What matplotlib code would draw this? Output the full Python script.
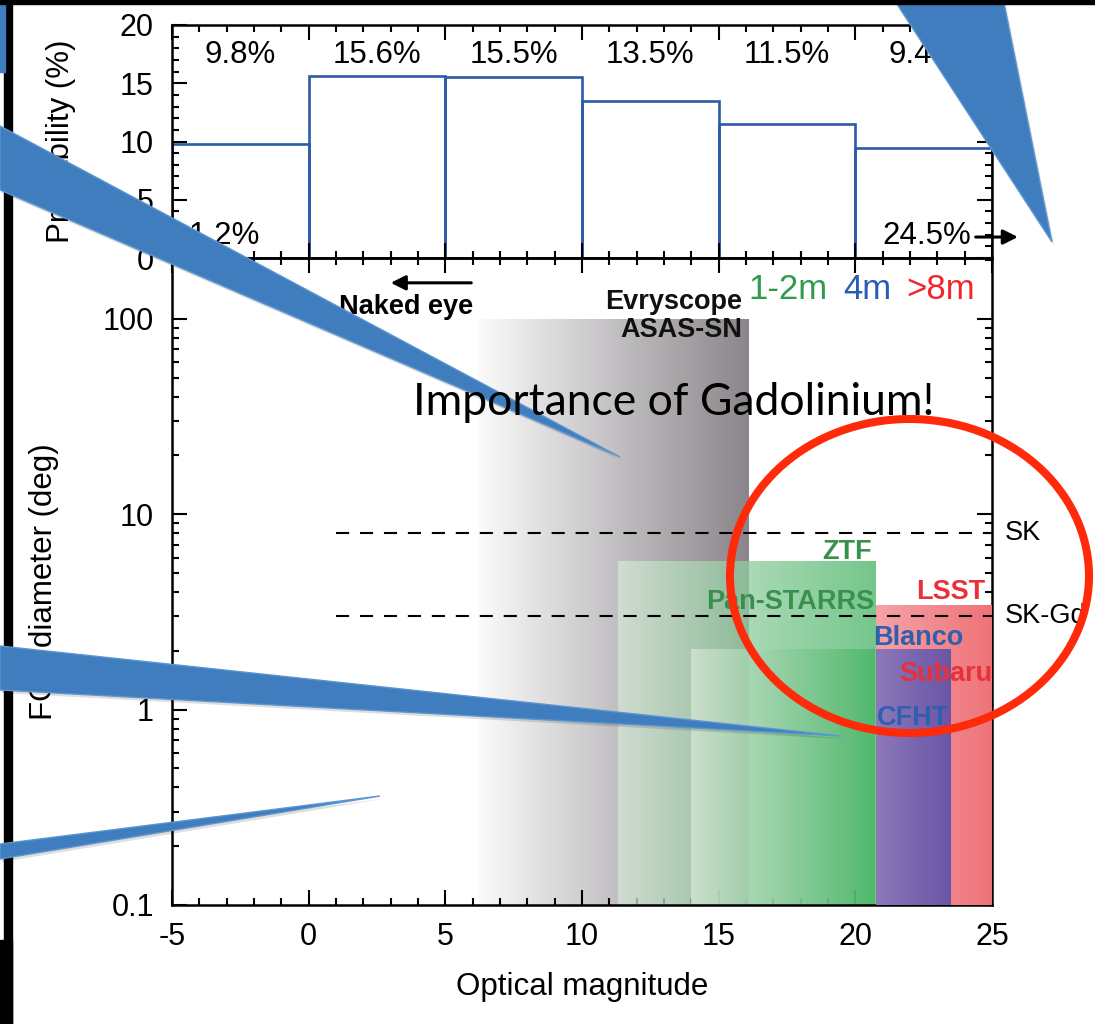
import numpy as np
import matplotlib
matplotlib.use('Agg')
import matplotlib.pyplot as plt
import matplotlib.colors as mcolors
from matplotlib.patches import Polygon, Ellipse, Rectangle
from matplotlib.ticker import MultipleLocator, LogLocator, NullFormatter

plt.rcParams['font.family'] = ['Liberation Sans', 'DejaVu Sans']
plt.rcParams['axes.unicode_minus'] = False

# 概率直方图 (上图)
mag_edges = [-5, 0, 5, 10, 15, 20, 25]
prob = [9.8, 15.6, 15.5, 13.5, 11.5, 9.4]
prob_below = 1.2
prob_above = 24.5

# 巡天视场 (下图)
surveys = ['ASAS-SN', 'ZTF', 'Pan-STARRS', 'LSST', 'Blanco']
mag_lo = [6.2, 11.3, 14.0, 20.75, 20.75]
mag_hi = [16.15, 20.75, 20.75, 25.0, 23.5]
fov = [100, 5.8, 2.05, 3.46, 2.05]

# 探测器视场线
det_names = ['SK', 'SK-Gd']
det_fov = [8.0, 3.0]
det_from = 1.0

xticks = [-5, 0, 5, 10, 15, 20, 25]
yticks_top = [0, 5, 10, 15, 20]
yticks_bot = [0.1, 1, 10, 100]
yticklabels_bot = ['0.1', '1', '10', '100']

W, H = 1095, 1024
fig = plt.figure(figsize=(W / 100, H / 100), dpi=100)
fig.patch.set_facecolor('white')


def px_axes(x0, y0, x1, y1):
    return [x0 / W, 1 - y1 / H, (x1 - x0) / W, (y1 - y0) / H]


ax1 = fig.add_axes(px_axes(172, 25, 992, 258))
ax2 = fig.add_axes(px_axes(172, 258, 992, 905))

hist_blue = '#2d5aa8'
ax1.bar(mag_edges[:-1], prob, width=5, align='edge', fill=False,
        edgecolor=hist_blue, linewidth=1.9)
for i, p in enumerate(prob):
    ax1.text((mag_edges[i] + mag_edges[i + 1]) / 2, 17.4, f'{p}%',
             ha='center', va='center', fontsize=22.5)
ax1.text(-4.4, 1.9, f'{prob_below}%', ha='left', va='center', fontsize=22.5)
ax1.text(24.25, 1.9, f'{prob_above}%', ha='right', va='center', fontsize=22.5)
ax1.annotate('', xy=(26.05, 1.8), xytext=(24.3, 1.8), annotation_clip=False,
             arrowprops=dict(arrowstyle='-|>', color='black', lw=2.2, mutation_scale=22))
ax1.annotate('', xy=(-6.6, 1.8), xytext=(-4.6, 1.8), annotation_clip=False,
             arrowprops=dict(arrowstyle='-|>', color='black', lw=2.2, mutation_scale=22))
ax1.set_xlim(-5, 25)
ax1.set_ylim(0, 20)
ax1.set_yticks(yticks_top)
ax1.set_xticks(xticks)
ax1.tick_params(labelbottom=False)
ax1.set_ylabel('Probability (%)', fontsize=22.5, va='center')
ax1.yaxis.set_label_coords((61 - 172) / 820, 0.5)
ax1.xaxis.set_minor_locator(MultipleLocator(1))
ax1.yaxis.set_minor_locator(MultipleLocator(1))


# 渐变色块
def grad_box(ax, x0, x1, y0, y1, c0, c1, alpha, z):
    t = np.linspace(0, 1, 256)[:, None]
    rgb = np.array(mcolors.to_rgb(c0)) * (1 - t) + np.array(mcolors.to_rgb(c1)) * t
    img = np.ones((1, 256, 4))
    img[0, :, :3] = rgb
    img[0, :, 3] = alpha
    ax.imshow(img, extent=(x0, x1, y0, y1), aspect='auto', origin='lower',
              interpolation='bilinear', zorder=z)


box_c0 = ['#fbfbfb', '#d7e6d7', '#d7e6d7', '#f5a2a7', '#8c78b9']
box_c1 = ['#8a858a', '#46b464', '#46b464', '#ee7378', '#6955a5']
box_alpha = [1.0, 0.75, 0.75, 1.0, 1.0]
box_z = [1, 2, 2.1, 3, 3.1]
for i in range(len(surveys)):
    grad_box(ax2, mag_lo[i], mag_hi[i], 0.1, fov[i], box_c0[i], box_c1[i], box_alpha[i], box_z[i])

for name, f in zip(det_names, det_fov):
    ax2.plot([det_from, 25], [f, f], color='black', lw=1.5,
             linestyle=(0, (6.3, 5.2)), zorder=5)
    ax2.text(25.45, f, name, ha='left', va='center', fontsize=19.5, clip_on=False)

bold = dict(fontsize=19.5, fontweight='bold', va='center', zorder=6)
ax2.text(3.55, 115, 'Naked eye', ha='center', color='black', **bold)
ax2.annotate('', xy=(2.9, 153), xytext=(6.05, 153),
             arrowprops=dict(arrowstyle='-|>', color='black', lw=2.2, mutation_scale=22))
ax2.text(15.85, 122, 'Evryscope', ha='right', color='#111111', **bold)
ax2.text(15.85, 88, 'ASAS-SN', ha='right', color='#111111', **bold)
ax2.text(19.7, 6.4, 'ZTF', ha='center', color='#3a8f4e', **bold)
ax2.text(20.7, 3.54, 'Pan-STARRS', ha='right', color='#3a8f4e', **bold)
ax2.text(24.75, 4.0, 'LSST', ha='right', color='#e8303a', **bold)
ax2.text(20.65, 2.33, 'Blanco', ha='left', color='#2f5fae', **bold)
ax2.text(25.0, 1.53, 'Subaru', ha='right', color='#e8303a', **bold)
ax2.text(20.8, 0.91, 'CFHT', ha='left', color='#2f5fae', **bold)

ax2.text(16.08, 141, '1-2m', ha='left', va='center', fontsize=25, color='#2e9c4a')
ax2.text(19.55, 141, '4m', ha='left', va='center', fontsize=25, color='#2b5cb5')
ax2.text(21.86, 141, '>8m', ha='left', va='center', fontsize=25, color='#f0282d')

ax2.set_yscale('log')
ax2.set_xlim(-5, 25)
ax2.set_ylim(0.1, 205)
ax2.set_xticks(xticks)
ax2.set_xticklabels([str(v) for v in xticks])
ax2.set_yticks(yticks_bot)
ax2.set_yticklabels(yticklabels_bot)
ax2.xaxis.set_minor_locator(MultipleLocator(1))
ax2.yaxis.set_minor_locator(LogLocator(base=10, subs=np.arange(2, 10)))
ax2.yaxis.set_minor_formatter(NullFormatter())
ax2.set_xlabel('Optical magnitude', fontsize=22.5, va='center')
ax2.xaxis.set_label_coords(0.5, (905 - 987) / 647)
ax2.set_ylabel('FOV diameter (deg)', fontsize=22.5, va='center')
ax2.yaxis.set_label_coords((44 - 172) / 820, 0.5)

for ax in (ax1, ax2):
    ax.set_facecolor('none')
    for s in ax.spines.values():
        s.set_linewidth(1.8)
    ax.tick_params(which='both', direction='in', top=True, right=True,
                   width=1.5, colors='black', labelsize=22)
    ax.tick_params(which='major', length=10.5)
    ax.tick_params(which='minor', length=5)
    ax.tick_params(axis='y', pad=13)
    ax.tick_params(axis='x', pad=12)

# 幻灯片上的标注 (像素坐标)
ov = fig.add_axes([0, 0, 1, 1], zorder=10)
ov.set_xlim(0, W)
ov.set_ylim(H, 0)
ov.axis('off')
ov.patch.set_alpha(0)

ov.add_patch(Rectangle((4, 0), 8, H, color='black', zorder=1))
ov.add_patch(Rectangle((0, 940), 12, H - 940, color='black', zorder=1))
ov.add_patch(Rectangle((0, 0), 5, 72, color='#3f7dbe', zorder=1))

callouts = [
    [(0, 126), (620, 457), (0, 190)],
    [(0, 646), (841, 736), (0, 690)],
    [(0, 844), (380, 796), (0, 859)],
    [(893, -2), (1052, 242), (1003, -2)],
]
for pts in callouts:
    shadow = [(x + 2, y + 3) for x, y in pts]
    ov.add_patch(Polygon(shadow, closed=True, facecolor='black', alpha=0.13,
                         edgecolor='none', zorder=2))
    ov.add_patch(Polygon(pts, closed=True, facecolor='#3f7dbe', edgecolor='#5b96d0',
                         lw=1, zorder=3))

ov.add_patch(Ellipse((909.5, 576), 359, 314, fill=False, edgecolor='#ff2a0a',
                     lw=5.8, zorder=4))
ov.text(413, 415, 'Importance of Gadolinium!', ha='left', va='baseline',
        fontsize=32, family=['Lato', 'DejaVu Sans'], color='black', zorder=5)
ov.add_patch(Rectangle((0, 0), W, 4, color='black', zorder=6))

fig.savefig('out.png', dpi=100)
